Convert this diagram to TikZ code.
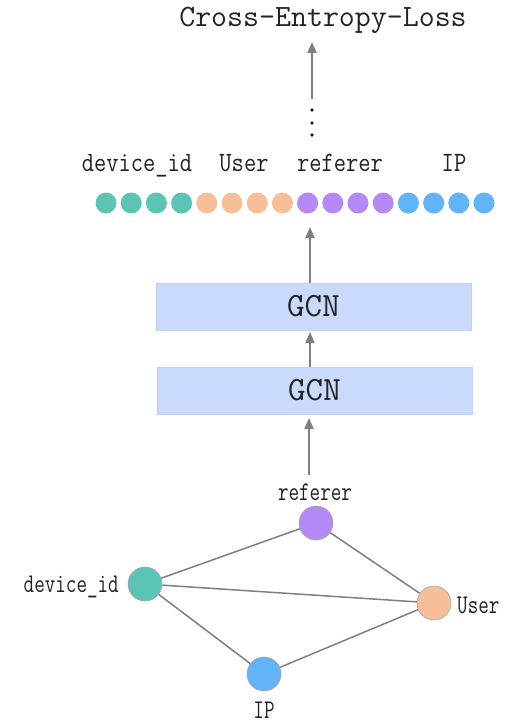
\documentclass[tikz,border=0pt]{standalone}
\usepackage{fontspec}
\usepackage{graphicx}
\usetikzlibrary{arrows.meta}
\definecolor{cteal}{HTML}{5BC4B4}
\definecolor{corange}{HTML}{F6BF98}
\definecolor{cpurple}{HTML}{B589F5}
\definecolor{cblue}{HTML}{63B3F9}
\definecolor{cbox}{HTML}{C9DAFC}
\definecolor{cline}{HTML}{7F7F7F}
\definecolor{ctext}{HTML}{222222}
\newcommand{\condtxt}[2]{\scalebox{#1}[1]{#2}}
\begin{document}
\begin{tikzpicture}[x=1pt,y=-1pt,
  txt/.style={inner sep=0pt, text=ctext},
  dot/.style={circle, minimum size=21pt, inner sep=0pt, fill=#1},
  gnode/.style={circle, minimum size=34pt, inner sep=0pt, fill=#1, draw=gray!70, line width=0.6pt},
  gcnbox/.style={fill=cbox, draw=cbox!90!gray, line width=0.4pt, minimum width=315pt, minimum height=47pt, inner sep=0pt,
     font={\ttfamily\fontsize{34}{34}\selectfont}, text=ctext},
  arr/.style={draw=cline, line width=2pt, -{Triangle[length=11pt,width=9pt]}},
  gedge/.style={draw=cline, line width=1.5pt}]
\useasboundingbox (0,0) rectangle (524,725);

% title
\node[txt, anchor=base, font={\ttfamily\fontsize{31}{31}\selectfont}] (title) at (323,27) {Cross-Entropy-Loss};
\coordinate (atip) at (312,42);
\coordinate (abase) at (312,99);
\draw[arr] (abase) -- (atip);
\foreach \y in {110,123,135} \fill[ctext] (312,\y) circle (1.8);

% top labels
\tikzset{toplab/.style={txt, anchor=base, font={\ttfamily\fontsize{28}{28}\selectfont}}}
\node[toplab] (ldev) at (137,171) {\condtxt{0.85}{device\_id}};
\node[toplab] (luser) at (244,171) {\condtxt{0.85}{User}};
\node[toplab] (lref) at (340,171) {\condtxt{0.85}{referer}};
\node[toplab] (lip) at (454,171) {\condtxt{0.85}{IP}};

% dots row
\foreach \i/\c in {0/cteal,1/cteal,2/cteal,3/cteal,4/corange,5/corange,6/corange,7/corange,8/cpurple,9/cpurple,10/cpurple,11/cpurple,12/cblue,13/cblue,14/cblue,15/cblue}
  \node[dot=\c] (d\i) at ({106+25.2*\i},203) {};

% GCN boxes
\node[gcnbox] (gcn1) at (313.5,306.5) {GCN};
\node[gcnbox] (gcn2) at (314.5,390.5) {GCN};

\coordinate (t1) at (310,227);
\coordinate (b1) at (310,283);
\draw[arr] (b1) -- (t1);
\coordinate (t2) at (310,332);
\coordinate (b2) at (310,367);
\draw[arr] (b2) -- (t2);
\coordinate (t3) at (309,418);
\coordinate (b3) at (309,475);
\draw[arr] (b3) -- (t3);

% graph
\node[gnode=cpurple] (nref) at (316,523) {};
\node[gnode=cteal] (ndev) at (145,584) {};
\node[gnode=corange] (nuser) at (434,603) {};
\node[gnode=cblue] (nip) at (264,674) {};

\draw[gedge] (ndev) -- (nref);
\draw[gedge] (nref) -- (nuser);
\draw[gedge] (ndev) -- (nuser);
\draw[gedge] (ndev) -- (nip);
\draw[gedge] (nip) -- (nuser);

\tikzset{botlab/.style={txt, font={\ttfamily\fontsize{27}{27}\selectfont}}}
\node[botlab, anchor=base] (bref) at (315,500) {\condtxt{0.76}{referer}};
\node[botlab, anchor=base east] (bdev) at (119,592) {\condtxt{0.76}{device\_id}};
\node[botlab, anchor=base west] (buser) at (457,613) {\condtxt{0.76}{User}};
\node[botlab, anchor=base] (bip) at (264,718) {\condtxt{0.76}{IP}};
\end{tikzpicture}
\end{document}
